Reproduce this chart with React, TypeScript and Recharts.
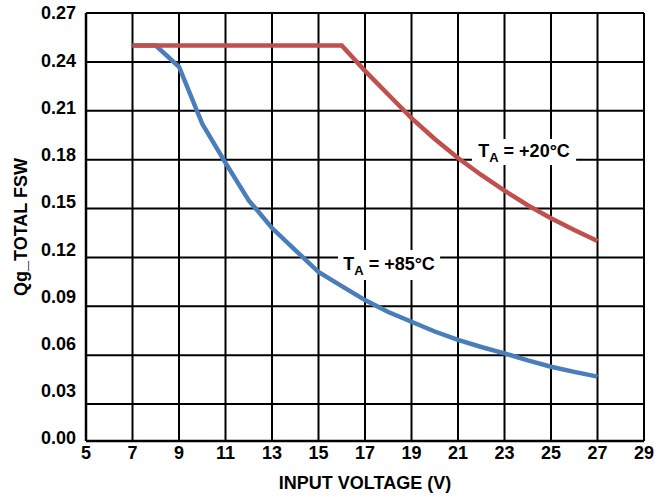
import { CartesianGrid, Label, Line, LineChart, ReferenceArea, XAxis, YAxis } from "recharts"

const voltage = [7, 8, 9, 10, 11, 12, 13, 14, 15, 16, 17, 18, 19, 20, 21, 22, 23, 24, 25, 26, 27]
const ta20 = [0.25, 0.25, 0.25, 0.25, 0.25, 0.25, 0.25, 0.25, 0.25, 0.25, 0.2345, 0.22, 0.2055, 0.1927, 0.181, 0.1706, 0.161, 0.152, 0.144, 0.1368, 0.13]
const ta85 = [0.25, 0.25, 0.237, 0.202, 0.178, 0.155, 0.138, 0.1245, 0.111, 0.1024, 0.0938, 0.0865, 0.0805, 0.0745, 0.0693, 0.065, 0.0611, 0.0568, 0.0529, 0.0497, 0.0468]

const xTicks = [5, 7, 9, 11, 13, 15, 17, 19, 21, 23, 25, 27, 29]
// the bottom axis of the original sits a little above 0.00
const Y_MIN = 0.0073
const yTicks = [Y_MIN, 0.03, 0.06, 0.09, 0.12, 0.15, 0.18, 0.21, 0.24, 0.27]
const yTickLabels = ["0.00", "0.03", "0.06", "0.09", "0.12", "0.15", "0.18", "0.21", "0.24", "0.27"]

const data = voltage.map((v, i) => ({ v, ta20: ta20[i], ta85: ta85[i] }))

const FONT = "'Liberation Sans', Arial, sans-serif"
const PLOT_TOP = 13

function YTick(props: any) {
  const { x, y, payload } = props
  const i = yTicks.indexOf(payload.value)
  // labels in the original drift slightly above their gridlines
  const dy = i === 0 ? -3 : -(y - PLOT_TOP) * 0.034
  return (
    <text x={x} y={y + dy} dy="0.36em" textAnchor="end" fontFamily={FONT} fontWeight="bold" fontSize={18} fill="#000">
      {yTickLabels[i]}
    </text>
  )
}

function TempLabel(temp: string) {
  return (props: any) => {
    const vb = props.viewBox
    return (
      <text
        x={vb.x + vb.width / 2}
        y={vb.y + vb.height / 2 + 5}
        textAnchor="middle"
        fontFamily={FONT}
        fontWeight="bold"
        fontSize={18}
        fill="#000"
      >
        <tspan>T</tspan>
        <tspan fontSize={13} dy={5}>A</tspan>
        <tspan dy={-5}>{` = ${temp}°C`}</tspan>
      </text>
    )
  }
}

function YTitle(props: any) {
  const vb = props.viewBox
  const cx = vb.x + 27
  const cy = vb.y + vb.height / 2
  return (
    <text
      transform={`translate(${cx}, ${cy}) rotate(-90)`}
      textAnchor="middle"
      fontFamily={FONT}
      fontWeight="bold"
      fontSize={18}
      fill="#000"
    >
      Qg_TOTAL FSW
    </text>
  )
}

export default function App() {
  return (
    <div style={{ position: "absolute", left: 0, top: 0, background: "#fff" }}>
      <LineChart width={662} height={497} data={data} margin={{ top: PLOT_TOP, right: 18, bottom: 0, left: 0 }}>
        <CartesianGrid stroke="#000" strokeWidth={2} strokeOpacity={1} />
        <XAxis
          dataKey="v"
          type="number"
          domain={[5, 29]}
          ticks={xTicks}
          height={56}
          tickLine={false}
          tickSize={0}
          tickMargin={5}
          axisLine={{ stroke: "#000", strokeWidth: 2.5 }}
          tick={{ fill: "#000", fontFamily: FONT, fontWeight: "bold", fontSize: 18 }}
        >
          <Label
            value="INPUT VOLTAGE (V)"
            position="insideBottom"
            offset={8}
            style={{ fill: "#000", fontFamily: FONT, fontWeight: "bold", fontSize: 18 }}
          />
        </XAxis>
        <YAxis
          type="number"
          domain={[Y_MIN, 0.27]}
          ticks={yTicks}
          width={86}
          tickLine={false}
          tickSize={0}
          tickMargin={10}
          axisLine={{ stroke: "#000", strokeWidth: 2.5 }}
          tick={<YTick />}
        >
          <Label content={<YTitle />} />
        </YAxis>
        <ReferenceArea x1={21.6} x2={26.08} y1={0.1767} y2={0.1927} fill="#fff" fillOpacity={1} stroke="none" label={TempLabel("+20")} />
        <ReferenceArea x1={15.84} x2={20.23} y1={0.1061} y2={0.1245} fill="#fff" fillOpacity={1} stroke="none" label={TempLabel("+85")} />
        <Line type="linear" dataKey="ta85" stroke="#4A7EBB" strokeWidth={4.5} dot={false} isAnimationActive={false} />
        <Line type="linear" dataKey="ta20" stroke="#C0504D" strokeWidth={4.5} dot={false} isAnimationActive={false} />
      </LineChart>
    </div>
  )
}
